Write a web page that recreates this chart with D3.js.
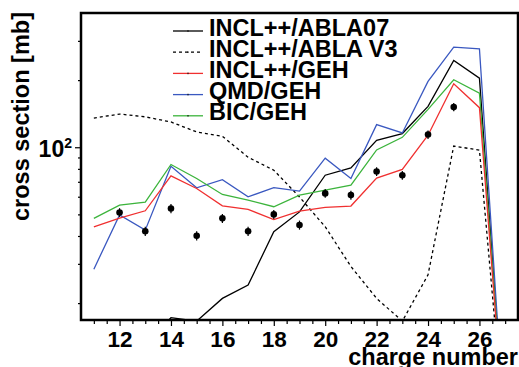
<!DOCTYPE html>
<html>
<head>
<meta charset="utf-8">
<script src="https://cdn.jsdelivr.net/npm/d3@7"></script>
<style>
  html, body { margin: 0; padding: 0; background: #fff; }
  svg { display: block; }
  text { font-family: "Liberation Sans", Arial, Helvetica, sans-serif; font-weight: bold; fill: #000; }
</style>
</head>
<body>
<svg id="chart" width="519" height="367"></svg>
<script>
// ---- data ----
const charges = [11,12,13,14,15,16,17,18,19,20,21,22,23,24,25,26,27];
const inclAbla07 = [8,10,13,17.2,16.6,21.0,24.1,41.8,51.3,74.9,80.8,107.5,115.2,152.6,244.9,204.1,5];
const inclAblaV3 = [135.2,140.9,136.9,129.8,117.1,112.0,90.2,78.9,59.8,44.0,29.2,21.0,16.6,26.8,101.3,97.0,5];
const inclGeh    = [43.9,48.1,51.9,74.4,65.3,54.6,52.6,47.4,51.7,53.7,54.5,72.7,79.5,113.2,192.7,150.5,5];
const qmdGeh     = [28.4,49.7,42.5,82.2,65.8,71.6,59.9,65.9,63.6,89.3,72.4,126.3,115.9,197.3,281.0,276.4,5];
const bicGeh     = [48.0,55.0,56.8,83.7,72.4,61.4,57.9,54.1,61.0,64.2,67.6,97.3,110.8,147.9,200.8,174.9,5];
const expCharges = [12,13,14,15,16,17,18,19,20,21,22,23,24,25];
const expValues  = [51.0,42.0,53.1,40.1,48.0,42.0,50.0,44.8,62.1,61.0,77.9,74.9,114.0,151.4];
const expErrors  = [2.3,2.0,2.5,1.9,2.2,2.0,2.3,2.1,2.8,2.8,3.5,3.4,5.0,6.5];
const seriesNames = ["INCL++/ABLA07","INCL++/ABLA V3","INCL++/GEH","QMD/GEH","BIC/GEH"];
const seriesColors = ["#000000","#000000","#f03030","#3a58c0","#3cb43c"];
const seriesDash = [null,"3,3",null,null,null];
const seriesData = [inclAbla07, inclAblaV3, inclGeh, qmdGeh, bicGeh];
const xTickLabels = [12,14,16,18,20,22,24,26];
const xMinorTicks = d3.range(11, 27.01, 0.5);
const yMinorTicks = [20,30,40,50,60,70,80,90,200,300];
const yMajorTicks = [100];

// ---- layout ----
const L = 81, R = 518, T = 13, B = 320;
const FS = 23.5;
const svg = d3.select("#chart");
const x = d3.scaleLinear().domain([10.5, 27.5]).range([L, R]);
const y = d3.scaleLog().domain([16.8, 400]).range([B, T]);

function fitText(sel, target) {
  const w = sel.node().getComputedTextLength();
  if (w > 0 && Math.abs(w - target) > 2) {
    sel.attr("textLength", target).attr("lengthAdjust", "spacingAndGlyphs");
  }
}

svg.append("defs").append("clipPath").attr("id","clip")
  .append("rect").attr("x",L).attr("y",T).attr("width",R-L).attr("height",B-T);

const plot = svg.append("g").attr("clip-path","url(#clip)");

const line = d3.line().x((d,i)=>x(charges[i])).y(d=>y(d));
[1,0,3,4,2].forEach(k => {
  plot.append("path")
    .datum(seriesData[k])
    .attr("d", line)
    .attr("fill","none")
    .attr("stroke", seriesColors[k])
    .attr("stroke-width", 1.3)
    .attr("stroke-dasharray", seriesDash[k]);
});

// experimental points
const pts = plot.append("g");
expCharges.forEach((c,i) => {
  pts.append("line")
    .attr("x1", x(c)).attr("x2", x(c))
    .attr("y1", y(expValues[i]+expErrors[i])).attr("y2", y(expValues[i]-expErrors[i]))
    .attr("stroke","#000").attr("stroke-width",1.2);
  pts.append("circle")
    .attr("cx", x(c)).attr("cy", y(expValues[i])).attr("r", 3.3).attr("fill","#000");
});

// axes ticks
const xMinorAxis = d3.axisBottom(x).tickValues(xMinorTicks.filter(v=>v%2!==0)).tickSize(4).tickFormat("");
const xMajorAxis = d3.axisBottom(x).tickValues(xTickLabels).tickSize(6).tickFormat(d3.format("d"));
const gxm = svg.append("g").attr("transform",`translate(0,${B})`).call(xMinorAxis);
const gxM = svg.append("g").attr("transform",`translate(0,${B})`).call(xMajorAxis);
[gxm,gxM].forEach(g => {
  g.select(".domain").remove();
  g.selectAll(".tick line").attr("stroke","#000").attr("stroke-width",1.2);
});
gxM.selectAll(".tick text")
  .attr("y", 0).attr("dy", null)
  .attr("transform","translate(0,26.5)")
  .attr("fill","#000")
  .style("font-size","22.5px").style("font-family","'Liberation Sans', Arial, sans-serif").style("font-weight","bold");

const yMinorAxis = d3.axisLeft(y).tickValues(yMinorTicks).tickSize(3).tickFormat("");
const yMajorAxis = d3.axisLeft(y).tickValues(yMajorTicks).tickSize(6).tickFormat("");
[yMinorAxis, yMajorAxis].forEach(a => {
  const g = svg.append("g").attr("transform",`translate(${L},0)`).call(a);
  g.select(".domain").remove();
  g.selectAll(".tick line").attr("stroke","#000").attr("stroke-width",1.2);
});

// y major label 10^2
const lab = svg.append("text").attr("x", 72).attr("y", y(100)+10).attr("text-anchor","end")
  .style("font-size","23px");
lab.append("tspan").text("10");
lab.append("tspan").attr("dy",-9).style("font-size","14px").text("2");

// frame
svg.append("rect").attr("x",L).attr("y",T).attr("width",R-L).attr("height",B-T)
  .attr("fill","none").attr("stroke","#000").attr("stroke-width",2.5);

// axis titles
const xt = svg.append("text").attr("x", 518).attr("y", 365).attr("text-anchor","end")
  .style("font-size", FS+"px").text("charge number");
fitText(xt, 170);
const yt = svg.append("text").attr("transform","translate(29,12) rotate(-90)").attr("text-anchor","end")
  .style("font-size", FS+"px").text("cross section [mb]");
fitText(yt, 209);

// legend
const legY0 = 31, legDy = 21.2;
const legWidths = [181, 190, 140, 112.5, 98.5];
seriesNames.forEach((n,i) => {
  const yy = legY0 + i*legDy;
  svg.append("line").attr("x1",173).attr("x2",203).attr("y1",yy).attr("y2",yy)
    .attr("stroke", seriesColors[i]).attr("stroke-width",1.3)
    .attr("stroke-dasharray", seriesDash[i]);
  svg.append("line").attr("x1",188).attr("x2",188).attr("y1",yy-0.8).attr("y2",yy+0.8)
    .attr("stroke","#000").attr("stroke-width",1);
  const t = svg.append("text").attr("x",209).attr("y",yy+4.5).style("font-size", FS+"px").text(n);
  fitText(t, legWidths[i]);
});
</script>
</body>
</html>
